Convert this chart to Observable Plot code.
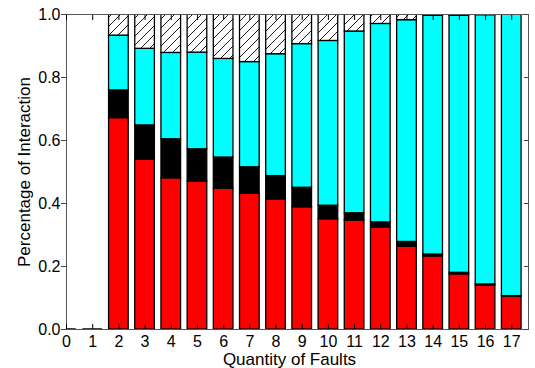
<!DOCTYPE html>
<html><head><meta charset="utf-8">
<script src="https://cdn.jsdelivr.net/npm/d3@7"></script>
<script src="https://cdn.jsdelivr.net/npm/@observablehq/plot@0.6"></script>
<style>
body{margin:0;background:#fff}
#chart svg{font-family:"Liberation Sans",Arial,Helvetica,sans-serif;background:#fff}
</style>
</head><body><div id="chart"></div>
<script>
// Quantity of faults (categories)
const faults = [0,1,2,3,4,5,6,7,8,9,10,11,12,13,14,15,16,17];
// Cumulative tops of each stacked segment
const redTop   = [0,0,0.671,0.539,0.480,0.470,0.447,0.431,0.413,0.388,0.350,0.346,0.323,0.263,0.232,0.175,0.140,0.104];
const blackTop = [0,0,0.759,0.648,0.604,0.572,0.546,0.515,0.487,0.450,0.393,0.369,0.340,0.278,0.238,0.180,0.143,0.106];
const cyanTop  = [0,0,0.933,0.891,0.878,0.879,0.859,0.849,0.874,0.906,0.916,0.946,0.970,0.982,0.996,0.996,0.998,1.000];
const totalTop = [0,0,1,1,1,1,1,1,1,1,1,1,1,1,1,1,1,1];
const yTicks = [0,0.2,0.4,0.6,0.8,1.0];
const xLabel = "Quantity of Faults";
const yLabel = "Percentage of Interaction";

const halfW = 0.375;
const seg = (lo, hi) => faults.map((f, i) => ({x: f, y1: lo[i], y2: hi[i]}));
const zero = faults.map(() => 0);
const redRows = seg(zero, redTop);
const blackRows = seg(redTop, blackTop);
const cyanRows = seg(blackTop, cyanTop);
const hatchRows = seg(cyanTop, totalTop).filter(d => d.y2 > d.y1);
const emptyRows = seg(zero, totalTop).filter(d => d.y2 === d.y1);

const barOpts = (fill) => ({
  x1: d => d.x - halfW, x2: d => d.x + halfW, y1: "y1", y2: "y2",
  fill, stroke: "black", strokeWidth: 1.3, clip: true
});

const svg = Plot.plot({
  width: 535, height: 368,
  marginLeft: 66, marginRight: 7, marginTop: 14, marginBottom: 39,
  style: {fontSize: "16px", fontFamily: "'Liberation Sans', Arial, sans-serif", color: "#000"},
  x: {domain: [0, 17.64]},
  y: {domain: [0, 1]},
  marks: [
    Plot.rect(redRows.filter(d => d.y2 > d.y1), barOpts("#ff0000")),
    Plot.rect(blackRows.filter(d => d.y2 > d.y1), barOpts("#000000")),
    Plot.rect(cyanRows.filter(d => d.y2 > d.y1), barOpts("#00ffff")),
    Plot.rect(hatchRows, barOpts("url(#hatch)")),
    Plot.frame({stroke: "#555", strokeWidth: 1}),
    Plot.ruleY(emptyRows, {y: "y1", x1: d => d.x - halfW, x2: d => d.x + halfW, stroke: "black", strokeWidth: 2.5, clip: true}),
    Plot.axisY({anchor: "left", ticks: yTicks, tickFormat: d3.format(".1f"), tickSize: 5, tickPadding: 1, stroke: "#444", fontSize: 16, label: null}),
    Plot.axisY({anchor: "right", ticks: yTicks, tickFormat: () => "", tickSize: -5, stroke: "#444", label: null}),
    Plot.axisX({anchor: "bottom", ticks: faults, tickFormat: d => String(d), tickSize: -5, tickPadding: 11, stroke: "#000", fontSize: 16, label: null}),
    Plot.axisX({anchor: "top", ticks: faults, tickFormat: () => "", tickSize: -5, stroke: "#000", label: null}),
    Plot.text([xLabel], {frameAnchor: "bottom", lineAnchor: "top", textAnchor: "middle", dy: 23, dx: -8, fontSize: 17, fill: "#000"}),
    Plot.text([yLabel], {frameAnchor: "left", textAnchor: "middle", rotate: -90, dx: -42, fontSize: 17, fill: "#000"})
  ]
});

// hatch pattern definition
const ns = "http://www.w3.org/2000/svg";
const defs = document.createElementNS(ns, "defs");
defs.innerHTML = '<pattern id="hatch" patternUnits="userSpaceOnUse" width="9" height="9">' +
  '<rect width="9" height="9" fill="white"/>' +
  '<path d="M-1,1 L1,-1 M0,9 L9,0 M8,10 L10,8" stroke="black" stroke-width="0.9"/></pattern>';
svg.insertBefore(defs, svg.firstChild);
document.getElementById("chart").appendChild(svg);
</script>
</body></html>
